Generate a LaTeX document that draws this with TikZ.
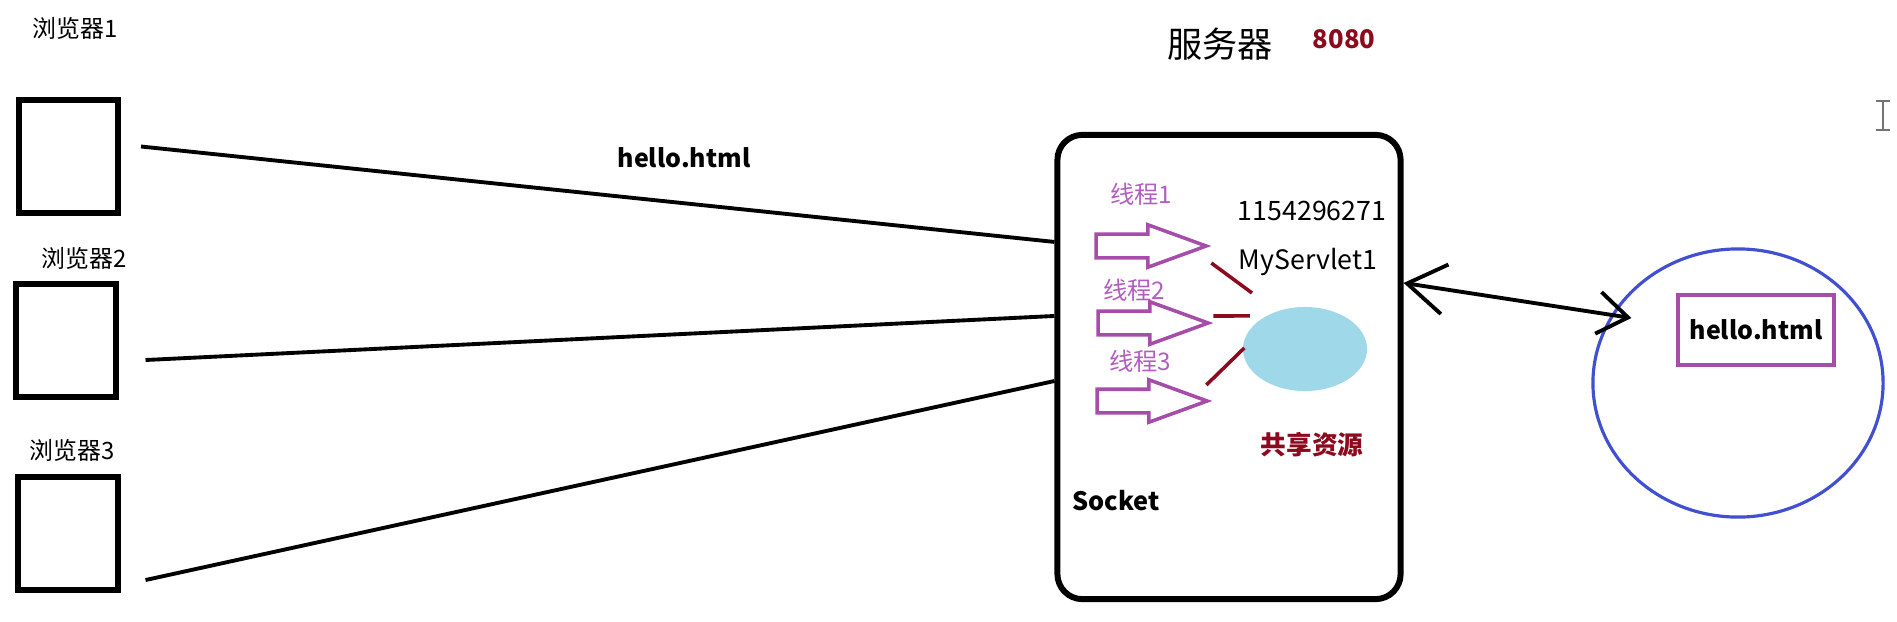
\documentclass[tikz,border=0pt]{standalone}
\usepackage{fontspec}
\setmainfont{Noto Sans CJK SC}
\usepackage{xcolor}
\usetikzlibrary{positioning,shapes.geometric,shapes.arrows,arrows.meta,calc}

\definecolor{threadpurple}{HTML}{A64DAA}
\definecolor{threadtext}{HTML}{B25EC0}
\definecolor{darkred}{HTML}{8C0A1E}
\definecolor{shareblue}{HTML}{9ED8E9}
\definecolor{diskblue}{HTML}{4050D0}

\begin{document}
\begin{tikzpicture}[x=0.01cm,y=-0.01cm,-,
    browser node/.style={rectangle,draw,line width=1.7pt,minimum width=0.99cm,minimum height=1.12cm,inner sep=0pt},
    browser label/.style={font=\fontsize{6.8pt}{8pt}\selectfont,inner sep=0pt},
    thread node/.style={single arrow,draw=threadpurple,line width=1pt,inner sep=0pt,text height=0.2cm,text depth=0pt,
                        minimum height=1.1cm,minimum width=0.39cm,single arrow head extend=0.095cm,single arrow tip angle=40},
    thread label/.style={text=threadtext,font=\fontsize{6.9pt}{8pt}\selectfont,inner sep=0pt},
    bold label/.style={font=\bfseries\fontsize{7.1pt}{9pt}\selectfont,inner sep=0pt},
    red label/.style={text=darkred,font=\bfseries\fontsize{7.3pt}{9pt}\selectfont,inner sep=0pt}]

  \useasboundingbox (0,0) rectangle (1897,621);

  % browsers
  \node[browser node] (b1) at (68.5,156.5) {};
  \node[browser node] (b2) at (66,340.5) {};
  \node[browser node] (b3) at (68,533.5) {};
  \node[browser label] (l1) at (75,28) {浏览器1};
  \node[browser label] (l2) at (84,258) {浏览器2};
  \node[browser label] (l3) at (72,450) {浏览器3};

  % server
  \node[draw,rounded corners=0.25cm,line width=1.7pt,minimum width=3.43cm,minimum height=4.64cm] (server) at (1229,367) {};
  \node[font=\fontsize{10pt}{12pt}\selectfont,inner sep=0pt] (title) at (1220,44) {服务器};
  \node[red label] (port) at (1344,39) {8080};
  \node[bold label] (req) at (684,158) {hello.html};
  \node[bold label,font=\bfseries\fontsize{7.2pt}{9pt}\selectfont] (socket) at (1116,501) {Socket};

  \path[line width=1.1pt]
    ([shift={(0.2cm,0.1cm)}]b1.east) edge ([yshift=1.25cm]server.west)
    ([shift={(0.27cm,-0.195cm)}]b2.east) edge ([yshift=0.51cm]server.west)
    ([shift={(0.25cm,-0.465cm)}]b3.east) edge ([yshift=-0.14cm]server.west);

  % threads
  \node[thread node] (t1) at (1135,246) {};
  \node[thread node] (t2) at (1137,323) {};
  \node[thread node] (t3) at (1136,401) {};
  \node[thread label] (tl1) at (1141,194) {线程1};
  \node[thread label] (tl2) at (1134,290) {线程2};
  \node[thread label] (tl3) at (1140,361) {线程3};

  \node[font=\fontsize{7.6pt}{9pt}\selectfont,inner sep=0pt] (hash) at (1312,211) {1154296271};
  \node[font=\fontsize{7.6pt}{9pt}\selectfont,inner sep=0pt] (servlet) at (1308,262) {MyServlet1};

  \node[ellipse,fill=shareblue,minimum width=1.24cm,minimum height=0.84cm,inner sep=0pt] (share) at (1305,349) {};
  \node[red label] (sharel) at (1312,445) {共享资源};

  \path[draw=darkred,line width=1pt]
    ([yshift=-0.17cm]t1.tip) edge ([shift={(-0.53cm,0.56cm)}]share.center)
    ([yshift=0.07cm]t2.tip) edge ([shift={(-0.55cm,0.33cm)}]share.center)
    ([shift={(-0.06cm,0.16cm)}]t3.tip) edge ([shift={(0.02cm,0.01cm)}]share.west);

  % disk
  \node[ellipse,draw=diskblue,line width=0.9pt,minimum width=2.9cm,minimum height=2.68cm] (disk) at (1738,383) {};
  \node[draw=threadpurple,line width=1pt,minimum width=1.56cm,minimum height=0.7cm,bold label] (file) at (1756,330) {hello.html};

  \draw[{Straight Barb[length=0.38cm,width=0.5cm]}-{Straight Barb[length=0.3cm,width=0.42cm]},line width=1.1pt]
    ([yshift=0.84cm]server.east) -- ([shift={(0.4cm,0.65cm)}]disk.west);

  % cursor
  \draw[color=black!55,line width=0.5pt] (1883,101) -- (1883,130) (1876,101) -- (1890,101) (1876,130) -- (1890,130);

\end{tikzpicture}
\end{document}
